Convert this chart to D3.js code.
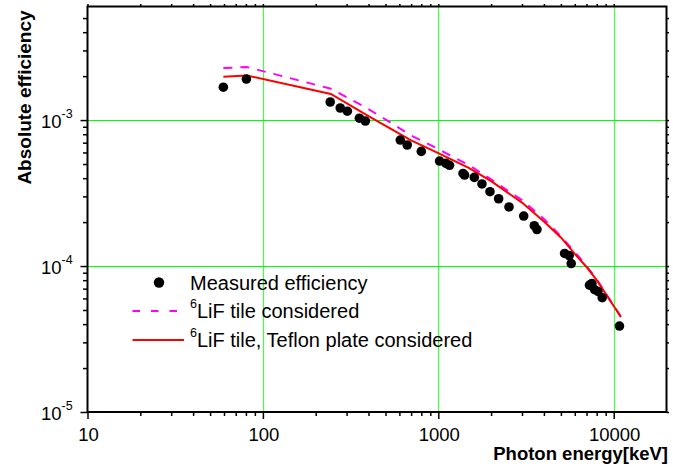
<!DOCTYPE html>
<html>
<head>
<meta charset="utf-8">
<script src="https://cdn.jsdelivr.net/npm/d3@7"></script>
<style>
  html, body { margin: 0; padding: 0; background: #fff; }
  svg { display: block; font-family: "Liberation Sans", Arial, sans-serif; }
</style>
</head>
<body>
<svg id="chart" width="673" height="470"></svg>
<script>
// measured points
const measuredEnergy = [59.5, 80.5, 242, 276, 303, 355, 384, 607, 665, 800,
  1017, 1106, 1159, 1383, 1412, 1604, 1774, 1971, 2208, 2530, 3069, 3526, 3650,
  5250, 5575, 5725, 7280, 7510, 7780, 8130, 8600, 10790];
const measuredEff = [1.68e-3, 1.91e-3, 1.33e-3, 1.21e-3, 1.15e-3, 1.03e-3, 0.985e-3, 7.3e-4, 6.75e-4, 6.1e-4,
  5.24e-4, 5.05e-4, 4.9e-4, 4.31e-4, 4.2e-4, 4.05e-4, 3.65e-4, 3.23e-4, 2.89e-4, 2.54e-4, 2.2e-4, 1.89e-4, 1.78e-4,
  1.22e-4, 1.18e-4, 1.04e-4, 7.4e-5, 7.6e-5, 6.9e-5, 6.7e-5, 6.07e-5, 3.88e-5];

// simulated curves
const simEnergy = [59.5, 81, 244, 400, 700, 1000, 1500, 2000, 3000, 4000, 5000, 6000, 7000, 8000, 11000];
const lifEff = [2.27e-3, 2.31e-3, 1.64e-3, 1.19e-3, 7.85e-4, 6.33e-4, 4.9e-4, 3.92e-4, 2.83e-4, 2.1e-4,
  1.6e-4, 1.25e-4, 1.0e-4, 8.1e-5, 4.48e-5];
const teflonEff = [1.98e-3, 2.02e-3, 1.51e-3, 1.065e-3, 7.26e-4, 5.94e-4, 4.69e-4, 3.82e-4, 2.72e-4, 2.02e-4,
  1.57e-4, 1.21e-4, 9.85e-5, 8.0e-5, 4.48e-5];

const xMajor = [10, 100, 1000, 10000];
const yMajor = [1e-5, 1e-4, 1e-3];
const yExp = ["-5", "-4", "-3"];

const legendItems = [
  { kind: "dot", sup: "", text: "Measured efficiency" },
  { kind: "dash", sup: "6", text: "LiF tile considered" },
  { kind: "line", sup: "6", text: "LiF tile, Teflon plate considered" }
];

(function () {
  const svg = d3.select("#chart");
  const pLeft = 87.5, pRight = 666.5, pTop = 6.5, pBottom = 412;

  const x = d3.scaleLog().domain([10, 20000]).range([pLeft, pRight]);
  const y = d3.scaleLog().domain([1e-5, 6e-3]).range([pBottom, pTop]);

  function minorTicks(lo, hi) {
    const out = [];
    for (let d = lo; d < hi; d *= 10) {
      for (let k = 2; k <= 9; k++) if (d * k < hi) out.push(d * k);
    }
    return out;
  }
  const xMinor = minorTicks(10, 20000);
  const yMinor = minorTicks(1e-5, 6e-3);

  // grid
  svg.append("g").selectAll("line").data(xMajor.slice(1)).join("line")
    .attr("x1", (d) => Math.round(x(d)) + 0.5).attr("x2", (d) => Math.round(x(d)) + 0.5)
    .attr("y1", pTop).attr("y2", pBottom)
    .attr("stroke", "#44ff44").attr("stroke-width", 1.2);
  svg.append("g").selectAll("line").data(yMajor.slice(1)).join("line")
    .attr("y1", (d) => Math.round(y(d)) + 0.5).attr("y2", (d) => Math.round(y(d)) + 0.5)
    .attr("x1", pLeft).attr("x2", pRight)
    .attr("stroke", "#00ff00").attr("stroke-width", 1.2);

  // axes ticks
  function tickAxis(axisFn, scale, values, size, transform) {
    const g = svg.append("g").attr("transform", transform)
      .call(axisFn(scale).tickValues(values).tickSize(size).tickFormat(""));
    g.select(".domain").remove();
    g.selectAll("line").attr("stroke", "#000").attr("stroke-width", 1.5);
    return g;
  }
  tickAxis(d3.axisBottom, x, xMajor, 7, `translate(0,${pBottom})`);
  tickAxis(d3.axisBottom, x, xMinor, 4, `translate(0,${pBottom})`);
  tickAxis(d3.axisTop, x, xMajor.concat(xMinor), 2.5, `translate(0,${pTop})`);
  tickAxis(d3.axisLeft, y, yMajor, 7, `translate(${pLeft},0)`);
  tickAxis(d3.axisLeft, y, yMinor, 4.5, `translate(${pLeft},0)`);
  tickAxis(d3.axisRight, y, yMajor.concat(yMinor), 2.5, `translate(${pRight},0)`);

  // frame
  svg.append("rect")
    .attr("x", pLeft).attr("y", pTop)
    .attr("width", pRight - pLeft).attr("height", pBottom - pTop)
    .attr("fill", "none").attr("stroke", "#000").attr("stroke-width", 2);

  // tick labels
  svg.append("g").selectAll("text").data(xMajor).join("text")
    .attr("x", (d) => x(d) + 1).attr("y", 441)
    .attr("text-anchor", "middle")
    .attr("font-size", 18.5)
    .text((d) => d);

  const yl = svg.append("g").selectAll("text").data(yMajor).join("text")
    .attr("x", 41).attr("y", (d) => y(d) + 7.5)
    .attr("font-size", 18.5);
  yl.append("tspan").text("10");
  yl.append("tspan").attr("font-size", 12.5).attr("dy", -9.5).text((d, i) => yExp[i]);

  // axis titles
  svg.append("text")
    .attr("transform", `translate(31,${97.5}) rotate(-90)`)
    .attr("text-anchor", "middle")
    .attr("font-size", 19).attr("font-weight", "bold")
    .text("Absolute efficiency");
  svg.append("text")
    .attr("x", 668).attr("y", 460)
    .attr("text-anchor", "end")
    .attr("font-size", 18.5).attr("font-weight", "bold")
    .text("Photon energy[keV]");

  // curves
  const line = d3.line().x((d) => x(d[0])).y((d) => y(d[1]));
  svg.append("clipPath").attr("id", "plot-clip")
    .append("rect").attr("x", pLeft).attr("y", pTop).attr("width", pRight - pLeft).attr("height", pBottom - pTop);

  svg.append("path")
    .datum(simEnergy.map((e, i) => [e, lifEff[i]]))
    .attr("d", line)
    .attr("fill", "none").attr("stroke", "#ff00ff").attr("stroke-width", 2)
    .attr("stroke-dasharray", "9,8")
    .attr("clip-path", "url(#plot-clip)");
  svg.append("path")
    .datum(simEnergy.map((e, i) => [e, teflonEff[i]]))
    .attr("d", line)
    .attr("fill", "none").attr("stroke", "#ff0000").attr("stroke-width", 2)
    .attr("clip-path", "url(#plot-clip)");

  // measured points
  svg.append("g").selectAll("circle")
    .data(measuredEnergy.map((e, i) => [e, measuredEff[i]]))
    .join("circle")
    .attr("cx", (d) => x(d[0])).attr("cy", (d) => y(d[1]))
    .attr("r", 4.8).attr("fill", "#000");

  // legend
  const lg = svg.append("g");
  const rowY = [282.5, 311, 340];
  legendItems.forEach((item, i) => {
    const cy = rowY[i];
    if (item.kind === "dot") {
      lg.append("circle").attr("cx", 159).attr("cy", cy).attr("r", 5.2).attr("fill", "#000");
    } else {
      lg.append("line")
        .attr("x1", 132.5).attr("x2", item.kind === "dash" ? 182 : 184)
        .attr("y1", cy).attr("y2", cy)
        .attr("stroke", item.kind === "dash" ? "#ff00ff" : "#ff0000")
        .attr("stroke-width", 2)
        .attr("stroke-dasharray", item.kind === "dash" ? "7.5,11" : null);
    }
    const t = lg.append("text").attr("x", 190).attr("y", cy + 7).attr("font-size", 20);
    if (item.sup) {
      t.append("tspan").attr("font-size", 12.5).attr("dy", -10).text(item.sup);
      t.append("tspan").attr("dy", 10).text(item.text);
    } else {
      t.text(item.text);
    }
  });
})();
</script>
</body>
</html>
